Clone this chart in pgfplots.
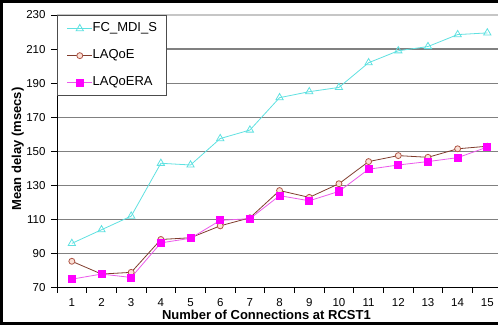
\documentclass[border=0pt]{standalone}
\usepackage{fontspec}
\setmainfont{Liberation Sans}
\usepackage{pgfplots}
\pgfplotsset{compat=1.18}
\definecolor{fcc}{RGB}{95,225,225}
\definecolor{laq}{RGB}{128,60,45}
\definecolor{laqm}{RGB}{175,85,70}
\definecolor{laqf}{RGB}{250,225,215}
\definecolor{mag}{RGB}{255,0,255}
\definecolor{magl}{RGB}{235,90,235}
\definecolor{gridc}{RGB}{128,128,128}
\begin{document}
\begin{tikzpicture}[x=1pt,y=1pt]
\path[use as bounding box] (0,0) rectangle (498,326);
\begin{axis}[
  at={(57pt,38.3pt)}, anchor=south west,
  scale only axis, width=441pt, height=272.7pt,
  xmin=0.5, xmax=15.36, ymin=70, ymax=230,
  axis x line*=bottom, axis y line*=left,
  axis line style={black, line width=0.8pt, -},
  xtick={1,...,15},
  minor xtick={0.5,1.5,...,14.5},
  ytick={70,90,...,210},
  extra y ticks={230},
  extra y tick style={major grid style={gray!45, line width=1.2pt}},
  major x tick style={draw=none},
  tick align=outside,
  major tick length=6pt, minor tick length=5pt,
  tick style={black, line width=0.8pt},
  ymajorgrids, major grid style={gridc, line width=1.2pt},
  /pgf/number format/assume math mode=true,
  ticklabel style={font=\fontsize{11.5}{13}\selectfont},
  yticklabel style={xshift=-2pt},
  xticklabel style={yshift=-1pt},
  legend style={at={(0,1)}, anchor=north west, draw=gray!60!black, line width=0.8pt, fill=white,
    font=\fontsize{13}{15}\selectfont, inner xsep=9.5pt, inner ysep=7.5pt, row sep=15.5pt,
    nodes={inner sep=0pt, text height=9pt, text depth=2.5pt}},
  legend cell align=left,
  legend image code/.code={\draw[mark repeat=2,mark phase=2] plot coordinates {(0pt,0pt) (12.5pt,0pt) (25pt,0pt)};},
]
\addplot[color=fcc, line width=0.8pt, mark=triangle, mark size=4.2pt, mark options={solid, draw=fcc, fill=white}]
  coordinates {(1,96) (2,104) (3,112) (4,143) (5,142) (6,157.5) (7,162.5) (8,181.5) (9,185) (10,187.5) (11,202) (12,209) (13,211.5) (14,218.5) (15,219.5)};
\addlegendentry{FC\_MDI\_S}
\addplot[color=laq, line width=0.8pt, mark=*, mark size=3pt, mark options={solid, draw=laqm, fill=laqf}]
  coordinates {(1,85.5) (2,78) (3,79) (4,98.3) (5,99.3) (6,106.3) (7,111) (8,127) (9,123) (10,131) (11,144) (12,147.5) (13,146.5) (14,151.5) (15,153)};
\addlegendentry{LAQoE}
\addplot[color=magl, line width=0.8pt, mark=square*, mark size=3.5pt, mark options={solid, draw=mag, fill=mag}]
  coordinates {(1,75) (2,78) (3,76) (4,96.3) (5,99) (6,109.5) (7,110.5) (8,124) (9,121) (10,126.5) (11,139.5) (12,142) (13,144) (14,146.3) (15,152.5)};
\addlegendentry{LAQoERA}
\end{axis}
\node[font=\fontsize{13}{15}\selectfont\bfseries] at (266.4,11.5) {Number of Connections at RCST1};
\node[font=\fontsize{13}{15}\selectfont\bfseries, rotate=90] at (17.7,177) {Mean delay (msecs)};
\draw[black, line width=3pt] (498,324.5) -- (1.5,324.5) -- (1.5,2) -- (498,2);
\end{tikzpicture}
\end{document}
